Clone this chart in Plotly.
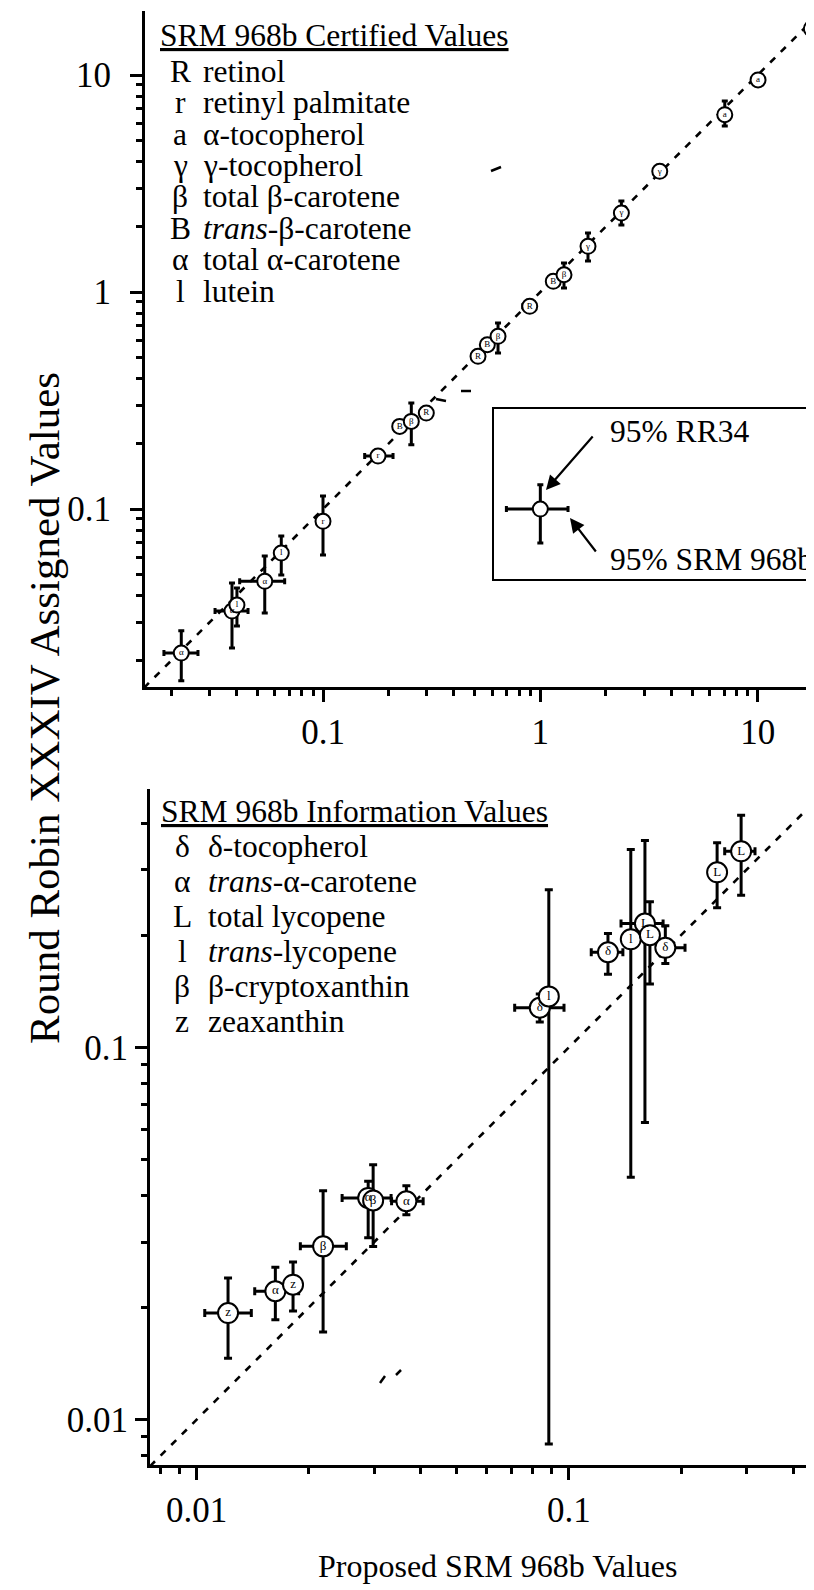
import plotly.graph_objects as go

W, H = 814, 1590
FONT = "Liberation Serif"

# ---------------- data: upper panel (SRM 968b certified values) ----------------
cert_sym = ["α", "α", "l", "α", "l", "r", "r", "B", "β", "R", "R", "B", "β", "R",
            "B", "β", "γ", "γ", "γ", "a", "a", "a"]
cert_x = [0.02228, 0.03813, 0.04018, 0.05395, 0.06427, 0.100, 0.1791, 0.2254, 0.2549, 0.2988,
          0.5167, 0.5703, 0.6388, 0.8937, 1.147, 1.285, 1.657, 2.360, 3.544, 7.058, 10.04, 17.66]
cert_y = [0.02170, 0.03388, 0.03611, 0.04643, 0.06268, 0.08775, 0.1754, 0.2404, 0.2535, 0.2769,
          0.5054, 0.5716, 0.6250, 0.8592, 1.120, 1.201, 1.624, 2.312, 3.599, 6.568, 9.493, 16.35]
cert_xlo = [0.01854, 0.03186, 0.04018, 0.04136, 0.06427, 0.100, 0.1555, 0.2254, 0.2549, 0.2988,
            0.5167, 0.5703, 0.6388, 0.830, 1.147, 1.285, 1.657, 2.360, 3.544, 7.058, 10.04, 17.66]
cert_xhi = [0.02659, 0.04519, 0.04018, 0.06663, 0.06427, 0.100, 0.2100, 0.2254, 0.2549, 0.2988,
            0.5167, 0.5703, 0.6388, 0.950, 1.147, 1.285, 1.657, 2.360, 3.544, 7.058, 10.04, 17.66]
cert_ylo = [0.01618, 0.02288, 0.02890, 0.03319, 0.04964, 0.06137, 0.1754, 0.2404, 0.1978, 0.2650,
            0.5054, 0.5716, 0.5235, 0.8592, 1.120, 1.043, 1.390, 2.036, 3.599, 5.821, 9.493, 16.35]
cert_yhi = [0.02748, 0.04560, 0.04325, 0.06072, 0.07511, 0.1148, 0.1754, 0.2404, 0.3079, 0.2900,
            0.5054, 0.5716, 0.7194, 0.8592, 1.120, 1.360, 1.870, 2.627, 3.599, 7.591, 9.493, 16.35]

# key symbol in the inset box
key_x, key_y = [1.0], [0.1]
key_xlo, key_xhi = [0.698], [1.341]
key_ylo, key_yhi = [0.0697], [0.1294]

# ---------------- data: lower panel (SRM 968b information values) ----------------
info_sym = ["z", "α", "z", "β", "α", "β", "α", "δ", "l", "δ", "l", "L", "L", "δ", "L", "L"]
info_x = [0.01215, 0.01628, 0.01816, 0.02187, 0.0289, 0.0298, 0.0366, 0.0835, 0.0883,
          0.1273, 0.1466, 0.160, 0.165, 0.1815, 0.250, 0.290]
info_y = [0.01934, 0.02213, 0.02304, 0.02921, 0.0394, 0.0388, 0.0386, 0.1277, 0.137,
          0.180, 0.195, 0.215, 0.200, 0.185, 0.295, 0.336]
info_xlo = [0.01052, 0.01433, 0.01816, 0.0190, 0.0246, 0.0298, 0.0334, 0.0715, 0.0883,
            0.1148, 0.1466, 0.138, 0.165, 0.173, 0.250, 0.262]
info_xhi = [0.01403, 0.0188, 0.01816, 0.02525, 0.0333, 0.0298, 0.0406, 0.0970, 0.0883,
            0.1396, 0.1466, 0.179, 0.165, 0.205, 0.250, 0.316]
info_ylo = [0.01462, 0.01855, 0.0196, 0.0172, 0.0308, 0.0292, 0.0355, 0.117, 0.0086,
            0.157, 0.0448, 0.0628, 0.148, 0.168, 0.237, 0.256]
info_yhi = [0.0240, 0.02566, 0.0265, 0.0412, 0.0437, 0.0484, 0.0425, 0.139, 0.265,
            0.202, 0.340, 0.359, 0.246, 0.212, 0.354, 0.420]

# identity (1:1) reference lines
ident_top = [0.015, 20.0]
ident_bot = [0.0075, 0.5]

# legends
cert_title = "SRM 968b Certified Values"
cert_leg_sym = ["R", "r", "a", "γ", "β", "B", "α", "l"]
cert_leg_txt = ["retinol", "retinyl palmitate", "α-tocopherol", "γ-tocopherol",
                "total β-carotene", "<i>trans</i>-β-carotene", "total α-carotene", "lutein"]
info_title = "SRM 968b Information Values"
info_leg_sym = ["δ", "α", "L", "l", "β", "z"]
info_leg_txt = ["δ-tocopherol", "<i>trans</i>-α-carotene", "total lycopene",
                "<i>trans</i>-lycopene", "β-cryptoxanthin", "zeaxanthin"]

# ticks
top_major = [0.1, 1, 10]
top_minor = [k * 10.0 ** e for e in (-2, -1, 0) for k in range(2, 10)]
bot_major = [0.01, 0.1]
bot_minor = [0.008, 0.009] + [k * 0.01 for k in range(2, 10)] + [0.2, 0.3, 0.4]


def px(x):
    return x / W


def py(y):
    return 1 - y / H


def err(v, lo, hi):
    return ([h - c for c, h in zip(v, hi)], [c - l for c, l in zip(v, lo)])


fig = go.Figure()

# identity lines
fig.add_trace(go.Scatter(x=ident_top, y=ident_top, mode="lines", xaxis="x", yaxis="y",
                         line=dict(color="black", width=2.6, dash="7px,8px"), hoverinfo="skip"))
fig.add_trace(go.Scatter(x=ident_bot, y=ident_bot, mode="lines", xaxis="x2", yaxis="y2",
                         line=dict(color="black", width=2.6, dash="7px,8px"), hoverinfo="skip"))


def points(xs, ys, xlo, xhi, ylo, yhi, syms, xa, ya, msize, tsize, capw):
    ex, exm = err(xs, xlo, xhi)
    ey, eym = err(ys, ylo, yhi)
    return go.Scatter(
        x=xs, y=ys, xaxis=xa, yaxis=ya, mode="markers+text" if syms else "markers",
        text=syms, textposition="middle center",
        textfont=dict(family=FONT, size=tsize, color="black"),
        marker=dict(symbol="circle", size=msize, color="white", line=dict(color="black", width=2)),
        error_x=dict(type="data", symmetric=False, array=ex, arrayminus=exm,
                     color="black", thickness=3, width=capw),
        error_y=dict(type="data", symmetric=False, array=ey, arrayminus=eym,
                     color="black", thickness=3, width=capw),
        hoverinfo="skip",
    )


fig.add_trace(points(cert_x, cert_y, cert_xlo, cert_xhi, cert_ylo, cert_yhi, cert_sym,
                     "x", "y", 15, 9, 3))
fig.add_trace(points(key_x, key_y, key_xlo, key_xhi, key_ylo, key_yhi, None,
                     "x", "y", 15, 9, 3))
fig.add_trace(points(info_x, info_y, info_xlo, info_xhi, info_ylo, info_yhi, info_sym,
                     "x2", "y2", 20, 13, 4))

axis_common = dict(type="log", showline=True, linewidth=3, linecolor="black", mirror=False,
                   ticks="outside", ticklen=12, tickwidth=3, tickcolor="black",
                   showgrid=False, zeroline=False,
                   tickfont=dict(family=FONT, size=35, color="black"))
minor_common = dict(ticks="outside", ticklen=6, tickwidth=2.5, tickcolor="black", showgrid=False)

fig.update_layout(
    width=W, height=H, margin=dict(l=0, r=0, t=0, b=0),
    paper_bgcolor="white", plot_bgcolor="white", showlegend=False,
    xaxis=dict(axis_common, domain=[px(137), 1], anchor="y", range=[-1.819, 1.296],
               tickvals=top_major, ticktext=["0.1", "1", "10"],
               minor=dict(minor_common, tickvals=top_minor)),
    yaxis=dict(axis_common, domain=[py(679), py(3)], anchor="x", range=[-1.820, 1.295],
               tickvals=top_major, ticktext=["0.1", "1", "10"], ticklabelstandoff=12,
               minor=dict(minor_common, tickvals=top_minor)),
    xaxis2=dict(axis_common, domain=[px(142), 1], anchor="y2", range=[-2.125, -0.3204],
                tickvals=bot_major, ticktext=["0.01", "0.1"],
                minor=dict(minor_common, tickvals=bot_minor)),
    yaxis2=dict(axis_common, domain=[py(1457), py(781)], anchor="x2", range=[-2.1216, -0.3064],
                tickvals=bot_major, ticktext=["0.01", "0.1"],
                minor=dict(minor_common, tickvals=bot_minor)),
)

ann = []
LEG = 31.5


def txt(t, x, y, anchor="left", size=LEG, angle=0):
    return dict(text=t, x=px(x), y=py(y), xref="paper", yref="paper", xanchor=anchor,
                yanchor="middle", showarrow=False, textangle=angle,
                font=dict(family=FONT, size=size, color="black"))


# upper legend
ann.append(txt("<u>" + cert_title + "</u>", 150, 28))
for i, (s, t) in enumerate(zip(cert_leg_sym, cert_leg_txt)):
    yy = 63.3 + 31.4 * i
    ann.append(txt(s, 172, yy, "center"))
    ann.append(txt(t, 193, yy))
# lower legend
ann.append(txt("<u>" + info_title + "</u>", 151, 803))
for i, (s, t) in enumerate(zip(info_leg_sym, info_leg_txt)):
    yy = 838.3 + 35.0 * i
    ann.append(txt(s, 174, yy, "center"))
    ann.append(txt(t, 198, yy))

# inset key texts and arrows
ann.append(txt("95% RR34", 600, 423))
ann.append(txt("95% SRM 968b", 600, 552))
ann.append(dict(text="", x=px(538), y=py(482), xref="paper", yref="paper", showarrow=True,
                ax=48, ay=-55, arrowhead=2, arrowsize=1.3, arrowwidth=2.2, arrowcolor="black"))
ann.append(dict(text="", x=px(562), y=py(510), xref="paper", yref="paper", showarrow=True,
                ax=27, ay=35, arrowhead=2, arrowsize=1.3, arrowwidth=2.2, arrowcolor="black"))

# axis titles
ann.append(txt("Round Robin XXXIV Assigned Values", 36, 700, "center", 43, -90))
ann.append(txt("Proposed SRM 968b Values", 489, 1558, "center", 32))

shapes = [
    dict(type="rect", xref="paper", yref="paper", x0=px(485), x1=1.02, y0=py(572), y1=py(400),
         line=dict(color="black", width=2), fillcolor="rgba(0,0,0,0)"),
]
# small specks present in the scanned original
for (x0, y0, x1, y1) in [(483, 163, 493, 159), (453, 383, 463, 383), (428, 391, 438, 393),
                         (372, 1375, 377, 1368), (388, 1367, 393, 1362)]:
    shapes.append(dict(type="line", xref="paper", yref="paper", x0=px(x0), y0=py(y0),
                       x1=px(x1), y1=py(y1), line=dict(color="black", width=2.5)))

fig.update_layout(annotations=ann, shapes=shapes)
fig.write_html("out.html")
